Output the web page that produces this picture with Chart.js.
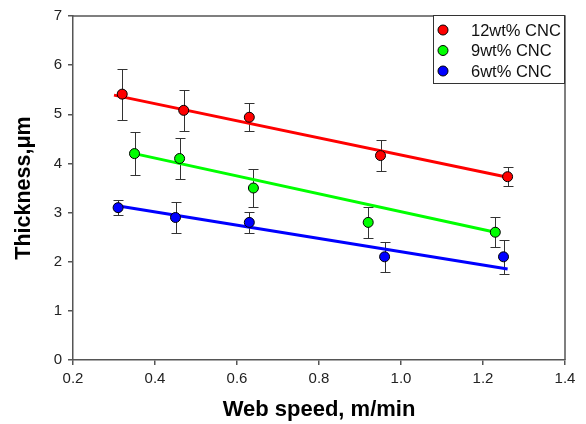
<!DOCTYPE html>
<html>
<head>
<meta charset="utf-8">
<script src="https://cdn.jsdelivr.net/npm/chart.js@4.4.1/dist/chart.umd.min.js"></script>
<style>
  html, body { margin: 0; padding: 0; background: #fff; }
  #wrap { width: 586px; height: 424px; position: relative; }
</style>
</head>
<body>
<div id="wrap"><canvas id="chart"></canvas></div>
<script>
const FONT = "'Liberation Sans', Arial, sans-serif";

// 12wt% CNC
const speed12 = [0.32, 0.47, 0.63, 0.95, 1.26];
const thick12 = [5.41, 5.08, 4.94, 4.16, 3.73];
const err12 = [0.52, 0.41, 0.29, 0.32, 0.19];
const fitX12 = [0.30, 1.26];
const fitY12 = [5.39, 3.72];

// 9wt% CNC
const speed9 = [0.35, 0.46, 0.64, 0.92, 1.23];
const thick9 = [4.20, 4.10, 3.50, 2.80, 2.60];
const err9 = [0.43, 0.42, 0.39, 0.32, 0.31];
const fitX9 = [0.35, 1.23];
const fitY9 = [4.20, 2.60];

// 6wt% CNC
const speed6 = [0.31, 0.45, 0.63, 0.96, 1.25];
const thick6 = [3.10, 2.90, 2.80, 2.10, 2.10];
const err6 = [0.15, 0.32, 0.21, 0.31, 0.35];
const fitX6 = [0.30, 1.26];
const fitY6 = [3.15, 1.85];

const labels = ['12wt% CNC', '9wt% CNC', '6wt% CNC'];
const colors = ['#ff0000', '#00ff00', '#0000ff'];

const pts = (xs, ys) => xs.map((x, i) => ({ x, y: ys[i] }));

function markerSet(label, xs, ys, errs, color) {
  return {
    label,
    data: pts(xs, ys),
    errors: errs,
    backgroundColor: color,
    borderColor: '#000',
    borderWidth: 1,
    pointRadius: 5,
    showLine: false
  };
}

function fitSet(xs, ys, color) {
  return {
    label: '',
    data: pts(xs, ys),
    borderColor: color,
    borderWidth: 3,
    pointRadius: 0,
    showLine: true,
    fill: false
  };
}

const errorBars = {
  id: 'errorBars',
  beforeDatasetsDraw(chart) {
    const ctx = chart.ctx;
    const xs = chart.scales.x;
    const ys = chart.scales.y;
    ctx.save();
    ctx.strokeStyle = '#333';
    ctx.lineWidth = 1;
    chart.data.datasets.forEach(ds => {
      if (!ds.errors) return;
      ds.data.forEach((p, i) => {
        const px = Math.round(xs.getPixelForValue(p.x)) + 0.5;
        const top = Math.round(ys.getPixelForValue(p.y + ds.errors[i])) + 0.5;
        const bot = Math.round(ys.getPixelForValue(p.y - ds.errors[i])) + 0.5;
        ctx.beginPath();
        ctx.moveTo(px, top);
        ctx.lineTo(px, bot);
        ctx.moveTo(px - 5, top);
        ctx.lineTo(px + 5, top);
        ctx.moveTo(px - 5, bot);
        ctx.lineTo(px + 5, bot);
        ctx.stroke();
      });
    });
    ctx.restore();
  }
};

const frameAndLegend = {
  id: 'frameAndLegend',
  afterDraw(chart) {
    const ctx = chart.ctx;
    const a = chart.chartArea;
    ctx.save();
    // top and right frame
    ctx.strokeStyle = '#555';
    ctx.lineWidth = 1.5;
    ctx.beginPath();
    ctx.moveTo(a.left, a.top);
    ctx.lineTo(a.right, a.top);
    ctx.lineTo(a.right, a.bottom);
    ctx.stroke();

    // legend box
    const w = 132, h = 69;
    const bx = a.right - w, by = a.top - 1;
    ctx.fillStyle = '#fff';
    ctx.fillRect(bx, by, w, h);
    ctx.strokeStyle = '#333';
    ctx.lineWidth = 1;
    ctx.strokeRect(bx + 0.5, by + 0.5, w - 1, h - 1);

    ctx.font = '16.5px ' + FONT;
    ctx.textBaseline = 'middle';
    ctx.textAlign = 'left';
    labels.forEach((lab, i) => {
      const cy = by + 15 + i * 20.5;
      ctx.beginPath();
      ctx.arc(bx + 10, cy, 5, 0, Math.PI * 2);
      ctx.fillStyle = colors[i];
      ctx.fill();
      ctx.strokeStyle = '#000';
      ctx.lineWidth = 1;
      ctx.stroke();
      ctx.fillStyle = '#111';
      ctx.fillText(lab, bx + 38, cy + 1);
    });
    ctx.restore();
  }
};

new Chart(document.getElementById('chart'), {
  type: 'scatter',
  data: {
    datasets: [
      markerSet(labels[0], speed12, thick12, err12, colors[0]),
      markerSet(labels[1], speed9, thick9, err9, colors[1]),
      markerSet(labels[2], speed6, thick6, err6, colors[2]),
      fitSet(fitX12, fitY12, colors[0]),
      fitSet(fitX9, fitY9, colors[1]),
      fitSet(fitX6, fitY6, colors[2])
    ]
  },
  options: {
    responsive: true,
    maintainAspectRatio: false,
    animation: false,
    layout: { padding: { left: 0, right: 21, top: 16, bottom: 0 } },
    plugins: {
      legend: { display: false },
      tooltip: { enabled: false }
    },
    scales: {
      x: {
        type: 'linear',
        min: 0.2,
        max: 1.4,
        afterFit(scale) { scale.height = 64; },
        ticks: {
          stepSize: 0.2,
          padding: 5,
          color: '#222',
          font: { family: FONT, size: 15 },
          callback: v => v.toFixed(1)
        },
        grid: { drawOnChartArea: false, drawTicks: true, tickLength: 5, color: '#555', lineWidth: 1.5 },
        border: { display: true, color: '#555', width: 1.5 },
        title: {
          display: true,
          text: 'Web speed, m/min',
          color: '#000',
          font: { family: FONT, size: 22, weight: 'bold' },
          padding: { top: 0, bottom: 1 }
        }
      },
      y: {
        type: 'linear',
        min: 0,
        max: 7,
        afterFit(scale) { scale.width = 73; },
        ticks: {
          stepSize: 1,
          padding: 6,
          color: '#222',
          font: { family: FONT, size: 15 }
        },
        grid: { drawOnChartArea: false, drawTicks: true, tickLength: 5, color: '#555', lineWidth: 1.5 },
        border: { display: true, color: '#555', width: 1.5 },
        title: {
          display: true,
          text: 'Thickness,μm',
          color: '#000',
          font: { family: FONT, size: 21.5, weight: 'bold' },
          padding: { top: 11, bottom: 0 }
        }
      }
    }
  },
  plugins: [errorBars, frameAndLegend]
});
</script>
</body>
</html>
